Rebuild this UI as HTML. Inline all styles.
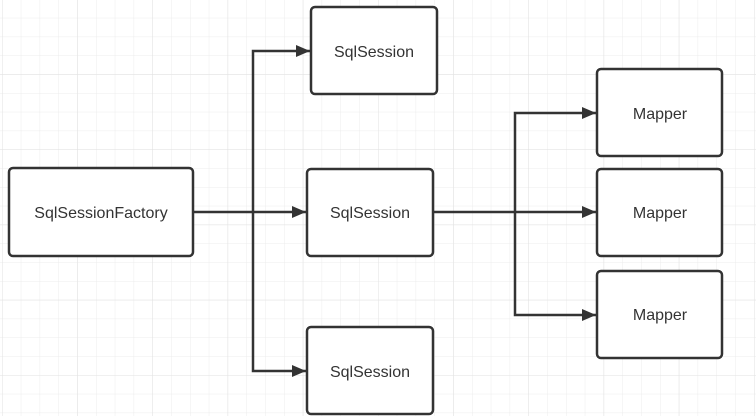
<!DOCTYPE html><html><head><style>body{margin:0}svg{display:block}</style></head><body>
<svg width="756" height="416" xmlns="http://www.w3.org/2000/svg" font-family="Liberation Sans, sans-serif">
<defs>
<pattern id="g" x="2" y="-1" width="18.8" height="18.8" patternUnits="userSpaceOnUse"><path d="M0 0H18.8M0 0V18.8" stroke="#ececec" stroke-width="1" fill="none"/></pattern>
<pattern id="G" x="2" y="-1" width="75.2" height="75.2" patternUnits="userSpaceOnUse"><path d="M0 0H75.2M0 0V75.2" stroke="#e2e2e2" stroke-width="1" fill="none"/></pattern>
<marker id="a" markerWidth="14" markerHeight="12" refX="14" refY="6" orient="auto" markerUnits="userSpaceOnUse"><path d="M0 0L14 6L0 12z" fill="#333"/></marker>
</defs>
<rect width="756" height="416" fill="#fff"/>
<rect width="756" height="416" fill="url(#g)"/>
<rect width="756" height="416" fill="url(#G)"/>
<g stroke="#333" stroke-width="2.5" fill="none">
<path d="M193 212H306" marker-end="url(#a)"/>
<path d="M253 212V51H310" marker-end="url(#a)"/>
<path d="M253 212V371H306" marker-end="url(#a)"/>
<path d="M433 212H596" marker-end="url(#a)"/>
<path d="M515 212V113H596" marker-end="url(#a)"/>
<path d="M515 212V315H596" marker-end="url(#a)"/>
</g>
<g stroke="#333" stroke-width="2.5" fill="#fff">
<rect x="9" y="168" width="184" height="88" rx="4"/>
<rect x="311" y="7" width="126" height="87" rx="4"/>
<rect x="307" y="169" width="126" height="87" rx="4"/>
<rect x="307" y="327" width="126" height="87" rx="4"/>
<rect x="597" y="69" width="125" height="87" rx="4"/>
<rect x="597" y="169" width="125" height="87" rx="4"/>
<rect x="597" y="271" width="125" height="87" rx="4"/>
</g>
<g fill="#333" font-size="16" text-anchor="middle">
<text x="101" y="218">SqlSessionFactory</text>
<text x="374" y="57">SqlSession</text>
<text x="370" y="218">SqlSession</text>
<text x="370" y="377">SqlSession</text>
<text x="660" y="119">Mapper</text>
<text x="660" y="218">Mapper</text>
<text x="660" y="320">Mapper</text>
</g>
</svg>
</body></html>
